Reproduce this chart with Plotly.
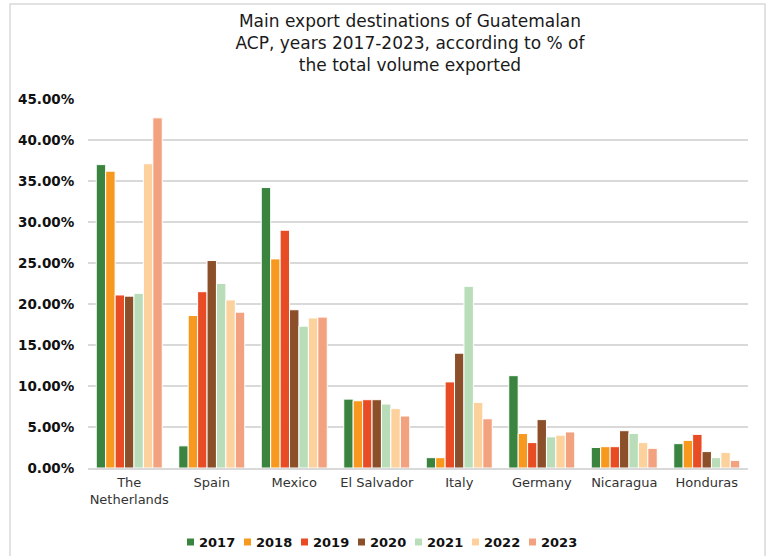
import plotly.graph_objects as go

countries = ["The<br>Netherlands", "Spain", "Mexico", "El Salvador", "Italy",
             "Germany", "Nicaragua", "Honduras"]
years = ["2017", "2018", "2019", "2020", "2021", "2022", "2023"]
v2017 = [37.0, 2.7, 34.2, 8.4, 1.26, 11.26, 2.5, 2.97]
v2018 = [36.2, 18.6, 25.5, 8.2, 1.26, 4.2, 2.6, 3.37]
v2019 = [21.1, 21.5, 29.0, 8.33, 10.5, 3.1, 2.6, 4.1]
v2020 = [20.96, 25.3, 19.3, 8.33, 14.0, 5.9, 4.55, 2.0]
v2021 = [21.3, 22.5, 17.3, 7.8, 22.15, 3.8, 4.2, 1.26]
v2022 = [37.1, 20.5, 18.3, 7.24, 8.0, 4.0, 3.1, 1.9]
v2023 = [42.7, 19.0, 18.4, 6.34, 6.0, 4.4, 2.4, 0.93]
series = [v2017, v2018, v2019, v2020, v2021, v2022, v2023]
colors = ["#3a8440", "#f7991f", "#e84c25", "#8b4f2a", "#b8ddb8", "#fcd19c", "#f2a27e"]

fig = go.Figure()
for yr, vals, c in zip(years, series, colors):
    fig.add_trace(go.Bar(
        name=yr, x=countries, y=[v / 100 for v in vals],
        marker=dict(color=c, line=dict(color="white", width=1)),
        showlegend=False,
    ))

W, H = 772, 556
L, R, T, B = 88, 24, 99, 88
pw, ph = W - L - R, H - T - B

def px(xp):
    return (xp - L) / pw

def py(yp):
    return (H - B - yp) / ph

FONT = "DejaVu Sans, sans-serif"

fig.update_layout(
    width=W, height=H,
    margin=dict(l=L, r=R, t=T, b=B, autoexpand=False),
    paper_bgcolor="white", plot_bgcolor="white",
    barmode="group", bargap=0.2, bargroupgap=0,
    font=dict(family=FONT, color="#222222"),
    title=dict(
        text="Main export destinations of Guatemalan<br>ACP, years 2017-2023, according to % of<br>the total volume exported",
        x=410 / W, xanchor="center", y=1 - 27 / H, yanchor="top", yref="container",
        font=dict(size=17, color="#1a1a1a", family=FONT),
    ),
    yaxis=dict(
        range=[0, 0.45], dtick=0.05, tickformat=".2%",
        showgrid=True, gridcolor="#d9d9d9", gridwidth=1.5,
        zeroline=False, showline=False,
        ticks="outside", ticklen=10, tickcolor="rgba(0,0,0,0)",
        tickfont=dict(size=13.5, color="#111111", family=FONT, weight="bold"),
    ),
    xaxis=dict(
        showline=True, linecolor="#d9d9d9", linewidth=1.5, ticks="",
        tickfont=dict(size=13, color="#333333", family=FONT), tickangle=0,
        ticklabelstandoff=2,
    ),
    showlegend=False,
)

# legend built from the series names and colours
x0_leg, step_leg, y_leg, sq = 187, 57, 542, 7
for i, (yr, c) in enumerate(zip(years, colors)):
    xs = x0_leg + i * step_leg
    fig.add_shape(type="rect", xref="paper", yref="paper",
                  x0=px(xs), x1=px(xs + sq), y0=py(y_leg + sq / 2), y1=py(y_leg - sq / 2),
                  fillcolor=c, line=dict(width=0))
    fig.add_annotation(xref="paper", yref="paper", x=px(xs + sq + 3), y=py(y_leg),
                       xanchor="left", yanchor="middle", showarrow=False,
                       text=yr, font=dict(size=13, color="#111111", family=FONT, weight="bold"))

fig.add_shape(type="rect", xref="paper", yref="paper",
              x0=px(10), x1=px(765), y0=py(562), y1=py(4),
              line=dict(color="#d9d9d9", width=1.5), fillcolor="rgba(0,0,0,0)",
              layer="below")

fig.write_html("out.html", post_script="document.body.style.margin='0';",
               config={"displayModeBar": False})
